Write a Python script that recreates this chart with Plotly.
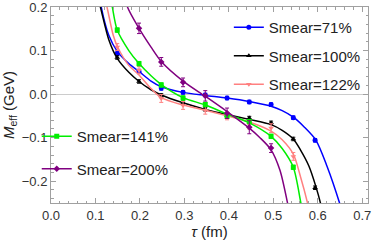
import plotly.graph_objects as go

# ---- data ----
tau_pts = [0.149, 0.198, 0.248, 0.297, 0.347, 0.396, 0.446, 0.495, 0.545, 0.594]

labels = ["Smear=71%", "Smear=100%", "Smear=122%", "Smear=141%", "Smear=200%"]
colors = ["#0000ff", "#000000", "#ff8080", "#00ee00", "#800080"]
symbols = ["circle", "triangle-up", "triangle-down", "square", "diamond"]

m71 = [0.094, 0.052, 0.014, 0.004, -0.002, -0.009, -0.018, -0.024, -0.054, -0.106]
e71 = [0.005, 0.005, 0.005, 0.004, 0.004, 0.004, 0.004, 0.004, 0.004, 0.004]
m100 = [0.084, 0.029, -0.003, -0.020, -0.035, -0.049, -0.055, -0.066, -0.103, -0.215]
e100 = [0.004, 0.004, 0.004, 0.004, 0.004, 0.004, 0.004, 0.004, 0.004, 0.004]
m122 = [0.108, 0.055, -0.010, -0.026, -0.037, -0.050, -0.070, -0.078, -0.143]
e122 = [0.008, 0.008, 0.009, 0.009, 0.009, 0.009, 0.010, 0.010, 0.009]
m141 = [0.147, 0.070, 0.021, -0.009, -0.024, -0.051, -0.063, -0.097, -0.168]
e141 = [0.005, 0.005, 0.005, 0.005, 0.005, 0.005, 0.005, 0.005, 0.005]
m200 = [0.151, 0.074, 0.027, -0.004, -0.044, -0.076, -0.124]
e200 = [0.012, 0.010, 0.010, 0.012, 0.012, 0.015, 0.010]
t200 = tau_pts[1:8]

# fitted curves
ct71 = [0.100, 0.113, 0.130, 0.149, 0.175, 0.198, 0.225, 0.248, 0.297, 0.347, 0.396, 0.446, 0.495, 0.520, 0.545, 0.570, 0.596, 0.621, 0.649, 0.660]
cm71 = [0.290, 0.200, 0.135, 0.098, 0.070, 0.052, 0.030, 0.017, 0.004, -0.003, -0.009, -0.017, -0.028, -0.038, -0.053, -0.076, -0.106, -0.166, -0.250, -0.290]
ct100 = [0.100, 0.111, 0.130, 0.149, 0.175, 0.198, 0.225, 0.248, 0.297, 0.347, 0.396, 0.446, 0.495, 0.520, 0.545, 0.561, 0.580, 0.596, 0.606, 0.612]
cm100 = [0.240, 0.200, 0.125, 0.082, 0.050, 0.029, 0.010, -0.002, -0.020, -0.035, -0.047, -0.058, -0.070, -0.083, -0.103, -0.128, -0.165, -0.213, -0.250, -0.280]
ct122 = [0.110, 0.126, 0.140, 0.149, 0.175, 0.198, 0.225, 0.248, 0.297, 0.347, 0.396, 0.446, 0.495, 0.520, 0.545, 0.561, 0.577, 0.585]
cm122 = [0.270, 0.200, 0.135, 0.110, 0.066, 0.044, 0.013, -0.008, -0.025, -0.037, -0.050, -0.064, -0.085, -0.105, -0.138, -0.189, -0.250, -0.290]
ct141 = [0.130, 0.138, 0.149, 0.175, 0.198, 0.225, 0.248, 0.297, 0.347, 0.396, 0.446, 0.495, 0.520, 0.545, 0.562, 0.568]
cm141 = [0.250, 0.200, 0.147, 0.100, 0.070, 0.042, 0.022, -0.008, -0.025, -0.046, -0.066, -0.097, -0.125, -0.168, -0.250, -0.280]
ct200 = [0.160, 0.172, 0.198, 0.225, 0.248, 0.297, 0.347, 0.396, 0.446, 0.470, 0.495, 0.515, 0.532, 0.540]
cm200 = [0.250, 0.200, 0.151, 0.108, 0.075, 0.030, -0.005, -0.040, -0.078, -0.100, -0.128, -0.175, -0.250, -0.290]

series = [
    (tau_pts, m71, e71, ct71, cm71),
    (tau_pts, m100, e100, ct100, cm100),
    (tau_pts[:9], m122, e122, ct122, cm122),
    (tau_pts[:9], m141, e141, ct141, cm141),
    (t200, m200, e200, ct200, cm200),
]

fig = go.Figure()
for i, (tx, my, ey, cx, cy) in enumerate(series):
    col = colors[i]
    fig.add_trace(go.Scatter(x=cx, y=cy, mode="lines", line=dict(color=col, width=1.5, shape="spline", smoothing=0.8),
                             showlegend=False, hoverinfo="skip"))
    fig.add_trace(go.Scatter(x=tx, y=my, mode="markers",
                             marker=dict(color=col, size=5, symbol=symbols[i]),
                             error_y=dict(type="data", array=ey, color=col, thickness=1, width=2),
                             showlegend=False))
    fig.add_trace(go.Scatter(x=[None], y=[None], mode="lines+markers", name=labels[i],
                             line=dict(color=col, width=1.5),
                             marker=dict(color=col, size=5, symbol=symbols[i]),
                             legendgroup="g%d" % i,
                             legend="legend" if i < 3 else "legend2"))

axis_common = dict(showline=True, linecolor="#a0a0a0", linewidth=1, mirror="ticks",
                   ticks="inside", ticklen=5, tickcolor="#a0a0a0", showgrid=False,
                   automargin=False, ticklabeloverflow="allow",
                   tickfont=dict(family="Liberation Sans, Arial", size=13, color="#333333"))

fig.update_xaxes(range=[0, 0.713], tickvals=[0, 0.1, 0.2, 0.3, 0.4, 0.5, 0.6, 0.7],
                 ticktext=["0.0", "0.1", "0.2", "0.3", "0.4", "0.5", "0.6", "0.7"],
                 minor=dict(dtick=0.02, ticks="inside", ticklen=2.5, tickcolor="#a0a0a0"),
                 zeroline=False,
                 title=dict(text="<i>τ</i> (fm)", font=dict(family="Liberation Sans, Arial", size=15, color="#222"), standoff=4),
                 **axis_common)
fig.update_yaxes(range=[-0.25, 0.2], tickvals=[-0.2, -0.1, 0.0, 0.1, 0.2],
                 ticktext=["−0.2", "−0.1", "0.0", "0.1", "0.2"],
                 minor=dict(dtick=0.02, ticks="inside", ticklen=2.5, tickcolor="#a0a0a0"),
                 zeroline=True, zerolinecolor="#cccccc", zerolinewidth=1,
                 title=dict(text="<i>M</i><sub>eff</sub> (GeV)", font=dict(family="Liberation Sans, Arial", size=15, color="#222"), standoff=4),
                 **axis_common)

legend_font = dict(family="Liberation Sans, Arial", size=15, color="#222")
fig.update_layout(
    width=374, height=243,
    margin=dict(l=51, r=6, t=7, b=40, autoexpand=False),
    paper_bgcolor="white", plot_bgcolor="white",
    legend=dict(x=0.561, y=0.979, xanchor="left", yanchor="top", bgcolor="rgba(0,0,0,0)",
                font=legend_font, tracegroupgap=6),
    legend2=dict(x=-0.045, y=0.424, xanchor="left", yanchor="top", bgcolor="rgba(0,0,0,0)",
                 font=legend_font, tracegroupgap=10),
)

fig.write_html("out.html",
               config={"displayModeBar": False, "staticPlot": True},
               post_script="document.body.style.margin='0';document.body.style.overflow='hidden';"
                           "document.documentElement.style.overflow='hidden';window.scrollTo(0,0);")
